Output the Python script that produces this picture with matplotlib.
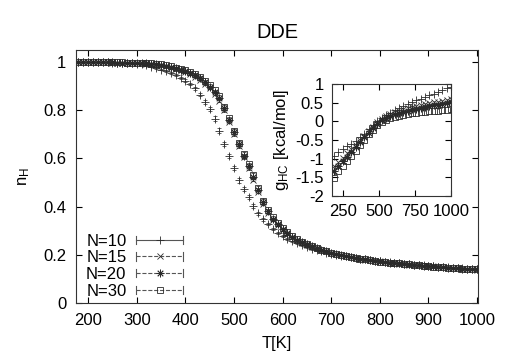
"""n_H vs temperature for DDE, with g_HC inset"""

import numpy as np
import matplotlib
matplotlib.use("Agg")
import matplotlib.pyplot as plt
from matplotlib.lines import Line2D
from matplotlib.legend_handler import HandlerBase

plt.rcParams['font.family'] = ['Liberation Sans', 'DejaVu Sans']
plt.rcParams['font.size'] = 12
plt.rcParams['mathtext.fontset'] = 'custom'
plt.rcParams['mathtext.rm'] = 'Liberation Sans'
plt.rcParams['mathtext.it'] = 'Liberation Sans'
plt.rcParams['axes.unicode_minus'] = False

## main plot data: fraction of helical content
temps = [180, 190, 200, 210, 220, 230, 240, 250, 260, 270, 280, 290, 300, 310, 320, 330,
         340, 350, 360, 370, 380, 390, 400, 410, 420, 430, 440, 450, 460, 470, 480, 490,
         500, 510, 520, 530, 540, 550, 560, 570, 580, 590, 600, 610, 620, 630, 640, 650,
         660, 670, 680, 690, 700, 710, 720, 730, 740, 750, 760, 770, 780, 790, 800, 810,
         820, 830, 840, 850, 860, 870, 880, 890, 900, 910, 920, 930, 940, 950, 960, 970,
         980, 990, 1000]

nh_n10 = [1.000, 1.000, 1.000, 1.000, 0.999, 0.999, 0.999, 0.998, 0.998, 0.997, 0.996, 0.995, 0.993, 0.990, 0.986, 0.981,
          0.976, 0.969, 0.961, 0.953, 0.945, 0.934, 0.923, 0.909, 0.892, 0.865, 0.834, 0.804, 0.765, 0.715, 0.660, 0.610,
          0.560, 0.510, 0.472, 0.440, 0.403, 0.373, 0.347, 0.326, 0.307, 0.291, 0.278, 0.266, 0.256, 0.247, 0.239, 0.232,
          0.225, 0.219, 0.214, 0.209, 0.205, 0.201, 0.197, 0.193, 0.190, 0.187, 0.184, 0.181, 0.178, 0.176, 0.173, 0.171,
          0.169, 0.167, 0.165, 0.163, 0.161, 0.159, 0.158, 0.156, 0.154, 0.153, 0.151, 0.150, 0.148, 0.147, 0.146, 0.144,
          0.143, 0.142, 0.141]
nh_n15 = [1.000, 1.000, 1.000, 0.999, 0.999, 0.999, 0.999, 0.998, 0.998, 0.997, 0.997, 0.996, 0.995, 0.994, 0.993, 0.991,
          0.989, 0.986, 0.982, 0.977, 0.971, 0.965, 0.958, 0.950, 0.940, 0.927, 0.910, 0.892, 0.868, 0.840, 0.800, 0.752,
          0.702, 0.652, 0.604, 0.560, 0.512, 0.462, 0.412, 0.375, 0.346, 0.322, 0.303, 0.287, 0.273, 0.261, 0.251, 0.242,
          0.234, 0.227, 0.220, 0.214, 0.208, 0.203, 0.198, 0.194, 0.190, 0.187, 0.183, 0.180, 0.177, 0.175, 0.172, 0.170,
          0.168, 0.165, 0.163, 0.161, 0.159, 0.158, 0.156, 0.154, 0.153, 0.151, 0.150, 0.148, 0.147, 0.145, 0.144, 0.143,
          0.142, 0.140, 0.139]
nh_n20 = [1.000, 1.000, 1.000, 1.000, 0.999, 0.999, 0.999, 0.999, 0.998, 0.998, 0.998, 0.997, 0.997, 0.996, 0.994, 0.993,
          0.991, 0.988, 0.985, 0.980, 0.974, 0.968, 0.962, 0.954, 0.945, 0.933, 0.916, 0.898, 0.875, 0.850, 0.808, 0.760,
          0.708, 0.658, 0.611, 0.567, 0.521, 0.470, 0.418, 0.380, 0.350, 0.326, 0.306, 0.290, 0.275, 0.263, 0.252, 0.243,
          0.235, 0.228, 0.221, 0.215, 0.209, 0.204, 0.199, 0.195, 0.191, 0.187, 0.184, 0.181, 0.178, 0.175, 0.173, 0.170,
          0.168, 0.166, 0.164, 0.162, 0.160, 0.158, 0.156, 0.155, 0.153, 0.152, 0.150, 0.149, 0.147, 0.146, 0.145, 0.143,
          0.142, 0.141, 0.140]
nh_n30 = [1.000, 1.000, 1.000, 1.000, 1.000, 0.999, 0.999, 0.999, 0.999, 0.999, 0.998, 0.998, 0.998, 0.997, 0.996, 0.995,
          0.993, 0.991, 0.988, 0.982, 0.977, 0.971, 0.965, 0.959, 0.950, 0.939, 0.922, 0.905, 0.882, 0.860, 0.815, 0.767,
          0.715, 0.665, 0.618, 0.575, 0.530, 0.478, 0.425, 0.385, 0.355, 0.330, 0.310, 0.293, 0.278, 0.265, 0.254, 0.244,
          0.236, 0.228, 0.221, 0.215, 0.209, 0.204, 0.199, 0.195, 0.191, 0.187, 0.184, 0.181, 0.178, 0.175, 0.172, 0.170,
          0.168, 0.166, 0.164, 0.162, 0.160, 0.158, 0.156, 0.155, 0.153, 0.151, 0.150, 0.148, 0.147, 0.146, 0.144, 0.143,
          0.142, 0.141, 0.140]

# error bars (only N=10 really visible)
err_n10 = [0.000, 0.000, 0.000, 0.000, 0.000, 0.001, 0.001, 0.001, 0.001, 0.001, 0.001, 0.002, 0.002, 0.002, 0.002, 0.003,
           0.003, 0.003, 0.004, 0.004, 0.004, 0.005, 0.005, 0.006, 0.006, 0.007, 0.008, 0.009, 0.010, 0.010, 0.010, 0.010,
           0.010, 0.010, 0.009, 0.009, 0.008, 0.006, 0.005, 0.004, 0.004, 0.004, 0.003, 0.003, 0.003, 0.003, 0.003, 0.003,
           0.003, 0.003, 0.003, 0.003, 0.003, 0.003, 0.004, 0.004, 0.004, 0.004, 0.004, 0.004, 0.005, 0.005, 0.005, 0.005,
           0.006, 0.006, 0.006, 0.007, 0.007, 0.008, 0.008, 0.008, 0.007, 0.006, 0.005, 0.005, 0.004, 0.004, 0.004, 0.004,
           0.004, 0.004, 0.004]
err_n15 = [0.000, 0.000, 0.000, 0.000, 0.000, 0.000, 0.000, 0.000, 0.001, 0.001, 0.001, 0.001, 0.001, 0.001, 0.001, 0.001,
           0.001, 0.002, 0.002, 0.002, 0.002, 0.002, 0.003, 0.003, 0.003, 0.003, 0.004, 0.004, 0.005, 0.005, 0.006, 0.007,
           0.007, 0.007, 0.007, 0.007, 0.007, 0.006, 0.006, 0.005, 0.004, 0.003, 0.003, 0.003, 0.003, 0.002, 0.002, 0.002,
           0.002, 0.002, 0.002, 0.002, 0.002, 0.002, 0.002, 0.002, 0.002, 0.002, 0.002, 0.002, 0.002, 0.002, 0.002, 0.002,
           0.002, 0.002, 0.002, 0.002, 0.002, 0.002, 0.002, 0.002, 0.002, 0.002, 0.002, 0.002, 0.002, 0.002, 0.002, 0.002,
           0.002, 0.002, 0.002]
err_n20 = [0.000, 0.000, 0.000, 0.000, 0.000, 0.000, 0.000, 0.000, 0.000, 0.001, 0.001, 0.001, 0.001, 0.001, 0.001, 0.001,
           0.001, 0.001, 0.002, 0.002, 0.002, 0.002, 0.002, 0.003, 0.003, 0.003, 0.004, 0.004, 0.005, 0.005, 0.006, 0.007,
           0.007, 0.008, 0.008, 0.008, 0.007, 0.007, 0.006, 0.005, 0.004, 0.003, 0.003, 0.003, 0.002, 0.002, 0.002, 0.002,
           0.002, 0.002, 0.002, 0.002, 0.002, 0.002, 0.002, 0.002, 0.002, 0.002, 0.002, 0.002, 0.002, 0.002, 0.002, 0.002,
           0.002, 0.002, 0.002, 0.002, 0.002, 0.002, 0.002, 0.002, 0.002, 0.002, 0.002, 0.002, 0.002, 0.002, 0.002, 0.002,
           0.002, 0.002, 0.002]
err_n30 = [0.000, 0.000, 0.000, 0.000, 0.000, 0.000, 0.000, 0.000, 0.000, 0.000, 0.001, 0.001, 0.001, 0.001, 0.001, 0.001,
           0.001, 0.001, 0.001, 0.002, 0.002, 0.002, 0.002, 0.002, 0.003, 0.003, 0.003, 0.004, 0.004, 0.005, 0.006, 0.006,
           0.007, 0.008, 0.008, 0.008, 0.008, 0.007, 0.006, 0.005, 0.004, 0.003, 0.003, 0.002, 0.002, 0.002, 0.002, 0.002,
           0.002, 0.002, 0.002, 0.002, 0.002, 0.002, 0.002, 0.002, 0.002, 0.002, 0.002, 0.002, 0.002, 0.002, 0.002, 0.002,
           0.002, 0.002, 0.002, 0.002, 0.002, 0.002, 0.002, 0.002, 0.002, 0.002, 0.002, 0.002, 0.002, 0.002, 0.002, 0.002,
           0.002, 0.002, 0.002]

## inset data: g_HC in kcal/mol
temps_inset = [190, 220, 250, 280, 310, 340, 370, 400, 430, 460, 490, 520, 550, 580,
               610, 640, 670, 700, 730, 760, 790, 820, 850, 880, 910, 940, 970, 1000]
g_n10 = [-0.93, -0.83, -0.75, -0.67, -0.60, -0.52, -0.43, -0.33, -0.21, -0.10, 0.00, 0.09, 0.16, 0.23,
         0.30, 0.36, 0.41, 0.46, 0.51, 0.56, 0.61, 0.65, 0.70, 0.74, 0.78, 0.83, 0.88, 0.93]
g_n15 = [-1.20, -1.08, -0.97, -0.86, -0.75, -0.63, -0.51, -0.39, -0.26, -0.14, -0.03, 0.06, 0.13, 0.19,
         0.24, 0.28, 0.32, 0.35, 0.38, 0.41, 0.44, 0.46, 0.49, 0.51, 0.53, 0.55, 0.57, 0.59]
g_n20 = [-1.33, -1.20, -1.07, -0.95, -0.82, -0.69, -0.56, -0.43, -0.30, -0.17, -0.06, 0.03, 0.10, 0.15,
         0.19, 0.23, 0.26, 0.29, 0.32, 0.34, 0.37, 0.39, 0.41, 0.43, 0.45, 0.47, 0.49, 0.51]
g_n30 = [-1.53, -1.33, -1.19, -1.06, -0.93, -0.79, -0.64, -0.50, -0.35, -0.22, -0.11, -0.02, 0.04, 0.08,
         0.11, 0.14, 0.17, 0.19, 0.21, 0.23, 0.24, 0.26, 0.27, 0.28, 0.29, 0.30, 0.31, 0.33]

labels = ['N=10', 'N=15', 'N=20', 'N=30']
markers = ['+', 'x', (8, 2, 0), 's']
linestyles = ['-', (0, (4, 2)), (0, (2, 2)), (0, (3, 1.5))]
msizes = [6, 4.5, 5.5, 4]

main_x_ticks = [200, 300, 400, 500, 600, 700, 800, 900, 1000]
main_y_ticks = [0, 0.2, 0.4, 0.6, 0.8, 1]
main_y_labels = ['0', '0.2', '0.4', '0.6', '0.8', '1']
inset_x_ticks = [250, 500, 750, 1000]
inset_y_ticks = [-2, -1.5, -1, -0.5, 0, 0.5, 1]
inset_y_labels = ['-2', '-1.5', '-1', '-0.5', '0', '0.5', '1']

ink = '#2a2a2a'


class KeyHandler(HandlerBase):
    """gnuplot style key sample: line with end caps and a point in the middle"""
    def create_artists(self, legend, orig_handle, xdescent, ydescent,
                       width, height, fontsize, trans):
        y = height / 2 - ydescent
        x0, x1 = -xdescent, width - xdescent
        c = 3.0
        line = Line2D([x0, x1], [y, y], color='#555555', lw=0.8,
                      ls=orig_handle.get_linestyle())
        caps = Line2D([x0, x0, np.nan, x1, x1], [y - c, y + c, np.nan, y - c, y + c],
                      color='#555555', lw=0.8)
        mid = Line2D([(x0 + x1) / 2], [y], marker=orig_handle.get_marker(),
                     ms=orig_handle.get_markersize(), mfc='none', mec=ink,
                     mew=0.6, ls='none')
        for a in (line, caps, mid):
            a.set_transform(trans)
        return [line, caps, mid]


fig = plt.figure(figsize=(5.07, 3.55), dpi=100)
ax = fig.add_axes([76 / 507, 52 / 355, 402 / 507, 253 / 355])

series = [(nh_n10, err_n10), (nh_n15, err_n15), (nh_n20, err_n20), (nh_n30, err_n30)]
handles = []
for (vals, errs), lab, mk, ls, ms in zip(series, labels, markers, linestyles, msizes):
    ax.errorbar(temps, vals, yerr=errs, fmt='none', ecolor=ink, elinewidth=0.5,
                capsize=1.5, capthick=0.5)
    ax.plot(temps, vals, ls='none', marker=mk, ms=ms, mfc='none', mec=ink, mew=0.6)
    handles.append(Line2D([], [], ls=ls, marker=mk, ms=ms, color=ink))

ax.set_xlim(175, 1002)
ax.set_ylim(0, 1.05)
ax.set_xticks(main_x_ticks)
ax.set_yticks(main_y_ticks)
ax.set_yticklabels(main_y_labels)
ax.tick_params(direction='in', top=True, right=True, length=4, width=0.8, pad=7)
for s in ax.spines.values():
    s.set_linewidth(0.8)
    s.set_color('#333333')
ax.set_xlabel('T[K]', labelpad=6)
ax.set_ylabel(r'n$_\mathrm{H}$', labelpad=8)
ax.set_title('DDE', pad=9)

leg = ax.legend(handles, labels, loc='lower left', bbox_to_anchor=(0.0, -0.022),
                frameon=False, markerfirst=False, handlelength=2.8,
                handletextpad=0.6, labelspacing=0.1, borderaxespad=0.2,
                handler_map={Line2D: KeyHandler()})

## inset
axin = fig.add_axes([332 / 507, 159 / 355, 119 / 507, 112 / 355])
for vals, mk, ms in zip([g_n10, g_n15, g_n20, g_n30], markers, msizes):
    axin.plot(temps_inset, vals, ls='none', marker=mk, ms=ms, mfc='none', mec=ink, mew=0.6)
axin.set_xlim(175, 1000)
axin.set_ylim(-2, 1)
axin.set_xticks(inset_x_ticks)
axin.set_yticks(inset_y_ticks)
axin.set_yticklabels(inset_y_labels)
axin.tick_params(direction='in', top=True, right=True, length=4, width=0.8, pad=6)
for s in axin.spines.values():
    s.set_linewidth(0.8)
    s.set_color('#333333')
axin.set_ylabel(r'g$_\mathrm{HC}$ [kcal/mol]', labelpad=3)

fig.savefig('out.png', dpi=100)
